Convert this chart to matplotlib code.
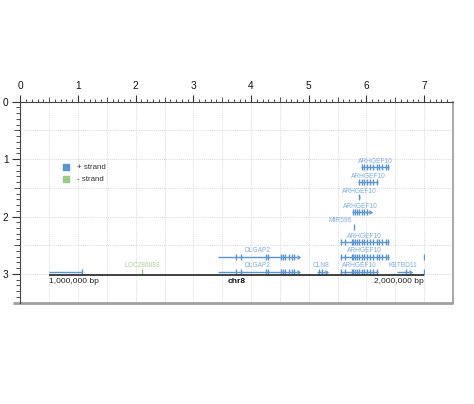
import numpy as np
import matplotlib
matplotlib.use("Agg")
import matplotlib.pyplot as plt
from matplotlib.ticker import FixedLocator, NullFormatter

plt.rcParams['font.family'] = ['Liberation Sans', 'DejaVu Sans']

# ---------------- data ----------------
chrom_name = "chr8"
region_start = 1_000_000
region_end = 2_000_000

x_major_ticks = [0, 1, 2, 3, 4, 5, 6, 7]
y_major_ticks = [0, 1, 2, 3]

gene_names = ["", "LOC286083", "DLGAP2", "CLN8", "ARHGEF10", "KBTBD11", "",
              "DLGAP2", "ARHGEF10", "",
              "ARHGEF10", "MIR596", "ARHGEF10", "ARHGEF10", "ARHGEF10", "ARHGEF10"]
gene_starts = [1000000, 1246500, 1451000, 1714200, 1775500, 1927300, 1998500,
               1451000, 1775500, 1998500,
               1775500, 1811800, 1807600, 1825500, 1823000, 1831600]
gene_ends = [1087600, 1248700, 1660000, 1735500, 1876800, 1959700, 2000000,
             1660000, 1906000, 2000000,
             1906000, 1813800, 1852800, 1828500, 1876800, 1906000]
gene_strands = ["+", "-", "+", "+", "+", "+", "+",
                "+", "+", "+",
                "+", "+", "+", "+", "+", "+"]
gene_rows = [0, 0, 0, 0, 0, 0, 0,
             1, 1, 1,
             2, 3, 4, 5, 6, 7]

dlgap2_exons = [1498200, 1510700, 1578200, 1583500, 1618200, 1624300,
                1629600, 1640300, 1646700, 1652800]
arhgef10_exons = [1777400, 1788800, 1806700, 1811000, 1815500, 1820000,
                  1827000, 1833400, 1840300, 1846700, 1855500, 1862700,
                  1875000, 1879500, 1888300, 1897300, 1903500]
cln8_exons = [1719500, 1727600]
kbtbd11_exons = [1952500]
left_gene_exons = [1087000]
edge_gene_exons = [1999500]
loc_exons = [1247600]
mir596_exons = [1812800]

legend_labels = ["+ strand", "- strand"]

# ---------------- styling ----------------
plus_col = "#5b94d2"
plus_lab = "#7eaee0"
minus_col = "#9bc98a"
minus_lab = "#a9d196"

fig = plt.figure(figsize=(4.74, 4.04), dpi=100)
ax_left = 20.3 / 474
ax_w = 432.7 / 474
ax_bottom = (404 - 302.6) / 404
ax_h = 200.9 / 404
ax = fig.add_axes([ax_left, ax_bottom, ax_w, ax_h])
ax.set_xlim(0, 7.5)
ax.set_ylim(3.5, 0)

# grid every 0.5
for gx in np.arange(0.5, 7.5, 0.5):
    ax.axvline(gx, color="#cccccc", lw=0.6, ls=(0, (1, 1.5)), zorder=0)
for gy in np.arange(0.5, 3.5, 0.5):
    ax.axhline(gy, color="#cccccc", lw=0.6, ls=(0, (1, 1.5)), zorder=0)

# axes / ticks
ax.xaxis.tick_top()
ax.set_xticks(x_major_ticks)
ax.set_xticklabels([str(t) for t in x_major_ticks])
ax.set_yticks(y_major_ticks)
ax.set_yticklabels([str(t) for t in y_major_ticks])
ax.xaxis.set_minor_locator(FixedLocator([v for v in np.round(np.arange(0, 7.51, 0.1), 2) if abs(v * 2 - round(v * 2)) > 1e-6]))
ax.yaxis.set_minor_locator(FixedLocator([v for v in np.round(np.arange(0, 3.51, 0.1), 2) if abs(v * 2 - round(v * 2)) > 1e-6]))
ax.tick_params(axis="x", which="major", length=5, width=0.8, pad=3,
               labelsize=7.3, colors="#333333", labelcolor="#111111")
ax.tick_params(axis="x", which="minor", length=2, width=0.6, colors="#333333")
ax.tick_params(axis="y", which="major", length=6, width=0.8, pad=2.5,
               labelsize=7.3, colors="#333333", labelcolor="#111111")
ax.tick_params(axis="y", which="minor", length=2.6, width=0.6, colors="#333333")

secx = ax.secondary_xaxis("top")
secx.set_xticks([v for v in np.arange(0.5, 7.5, 1.0)])
secx.xaxis.set_major_formatter(NullFormatter())
secx.tick_params(length=3.3, width=0.6, colors="#333333")
secx.spines["top"].set_visible(False)
secy = ax.secondary_yaxis("left")
secy.set_yticks([v for v in np.arange(0.5, 3.5, 1.0)])
secy.yaxis.set_major_formatter(NullFormatter())
secy.tick_params(length=4.2, width=0.6, colors="#333333")
secy.spines["left"].set_visible(False)

for s in ["top", "left"]:
    ax.spines[s].set_color("#444444")
    ax.spines[s].set_linewidth(0.8)
ax.spines["right"].set_color("#9a9a9a")
ax.spines["right"].set_linewidth(1.2)
ax.spines["bottom"].set_visible(False)
ax.plot([-0.017, 1.0], [0, 0], transform=ax.transAxes, color="#a0a0a0",
        lw=2.0, clip_on=False, solid_capstyle="butt")

# legend
leg_cols = [plus_col, minus_col]
for i, lab in enumerate(legend_labels):
    yy = 1.138 + i * 0.209
    ax.scatter([0.795], [yy], marker="s", s=20, color=leg_cols[i], zorder=3)
    ax.text(0.99, yy, lab, fontsize=5.7, color="#333333", va="center", ha="left")

# ---------------- gene track axes (bp coordinates) ----------------
gx0 = (20.3 + 0.5 * 57.7) / 474
gw = (6.5 * 57.7) / 474
gax = fig.add_axes([gx0, ax_bottom, gw, ax_h])
gax.set_xlim(region_start, region_end)
gax.set_ylim(3.5, 0)
gax.axis("off")
gax.patch.set_alpha(0)

exon_sets = {
    "DLGAP2": dlgap2_exons,
    "ARHGEF10": arhgef10_exons,
    "CLN8": cln8_exons,
    "KBTBD11": kbtbd11_exons,
    "LOC286083": loc_exons,
    "MIR596": mir596_exons,
}

row_base = 2.962
row_step = 0.261

for i, name in enumerate(gene_names):
    s, e = gene_starts[i], gene_ends[i]
    y = row_base - row_step * gene_rows[i]
    col = plus_col if gene_strands[i] == "+" else minus_col
    lcol = plus_lab if gene_strands[i] == "+" else minus_lab
    if name in exon_sets:
        ex = [v for v in exon_sets[name] if s <= v <= e]
    elif s == region_start:
        ex = left_gene_exons
    else:
        ex = edge_gene_exons
    gax.plot([s, e], [y, y], color=col, lw=1.0, solid_capstyle="butt")
    gax.plot(ex, [y] * len(ex), ls="none", marker="|", ms=4.0, mew=1.0, color=col)
    if name and (e - s) > 8000:
        if gene_strands[i] == "+" and (e - max(ex)) > 3000:
            gax.plot([e], [y], ls="none", marker=9, ms=2.4, color=col, mew=0.5)
        elif gene_strands[i] == "-" and (min(ex) - s) > 3000:
            gax.plot([s], [y], ls="none", marker=8, ms=2.4, color=col, mew=0.5)
    if name:
        if name == "MIR596":
            gax.text(s - 4000, y - 0.105, name, fontsize=4.8, color=lcol, ha="right", va="center")
        else:
            gax.text((s + e) / 2, y - 0.1, name, fontsize=4.8, color=lcol, ha="center", va="center")

# chromosome line and labels
chrom_y = 3.024
gax.plot([region_start, region_end], [chrom_y, chrom_y], color="#333333", lw=1.3,
         solid_capstyle="butt")
gax.text(region_start, chrom_y + 0.05, f"{region_start:,} bp", fontsize=6, color="#222222",
         ha="left", va="top")
gax.text(region_end, chrom_y + 0.05, f"{region_end:,} bp", fontsize=6, color="#222222",
         ha="right", va="top")
gax.text((region_start + region_end) / 2, chrom_y + 0.05, chrom_name, fontsize=6,
         fontweight="bold", color="#111111", ha="center", va="top")

fig.savefig("out.png", dpi=100)
